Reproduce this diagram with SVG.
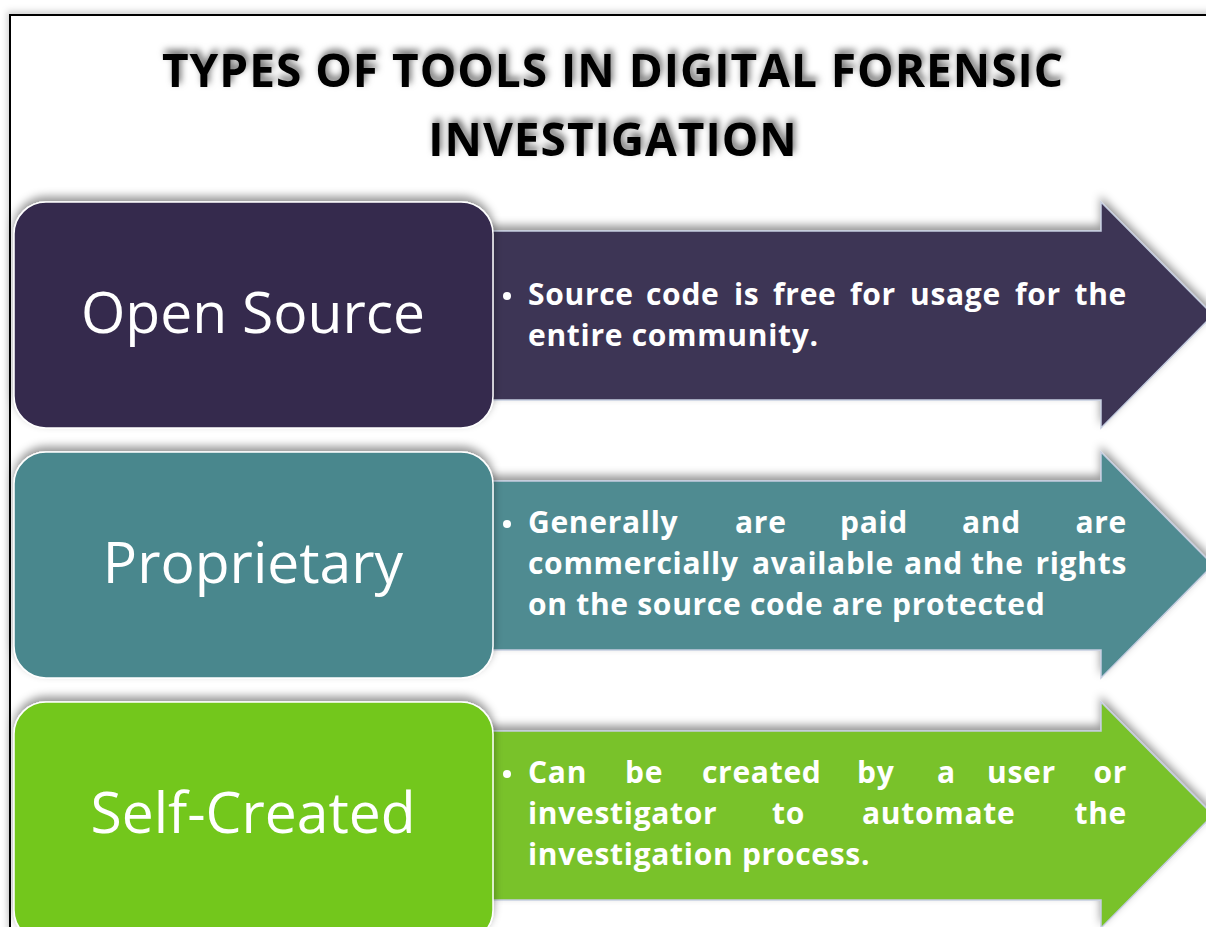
<svg xmlns="http://www.w3.org/2000/svg" width="1206" height="927" viewBox="0 0 1206 927">
  <defs>
    <filter id="frameShadow" x="-5%" y="-5%" width="110%" height="110%">
      <feDropShadow dx="-2" dy="-3" stdDeviation="3" flood-color="#000" flood-opacity="0.18"/>
    </filter>
    <filter id="shapeShadow" x="-5%" y="-15%" width="110%" height="130%">
      <feDropShadow dx="0" dy="-5" stdDeviation="4" flood-color="#000" flood-opacity="0.4"/>
    </filter>
    <filter id="titleShadow" x="-5%" y="-30%" width="110%" height="160%">
      <feGaussianBlur in="SourceAlpha" stdDeviation="3.5"/>
      <feOffset dx="2" dy="-4" result="b"/>
      <feFlood flood-color="#000" flood-opacity="0.6"/>
      <feComposite in2="b" operator="in" result="s"/>
      <feMerge><feMergeNode in="s"/><feMergeNode in="SourceGraphic"/></feMerge>
    </filter>
  </defs>
  <style>
    .title { font-family: "Open Sans", "Liberation Sans", sans-serif; font-weight: 700; font-size: 46px; letter-spacing: 1px; fill: #000; }
    .label { font-family: "Open Sans", "Liberation Sans", sans-serif; font-weight: 400; font-size: 57px; fill: #fff; }
    .desc { font-family: "Open Sans", "Liberation Sans", sans-serif; font-weight: 700; font-size: 30px; letter-spacing: 0.7px; fill: #fff; }
    .box { stroke: #ffffff; stroke-width: 1.5; }
    .arrow { stroke: #c5cde0; stroke-width: 1.5; }
  </style>
  <rect x="0" y="0" width="1206" height="927" fill="#ffffff"/>
  <rect x="10" y="15" width="1210" height="930" fill="#ffffff" stroke="#000" stroke-width="2" filter="url(#frameShadow)"/>

  <g id="title" filter="url(#titleShadow)">
    <text class="title" x="613" y="87" text-anchor="middle">TYPES OF TOOLS IN DIGITAL FORENSIC</text>
    <text class="title" x="613" y="156" text-anchor="middle">INVESTIGATION</text>
  </g>

  <g id="connectors"/>

  <g id="node-open-source">
    <polygon class="arrow" fill="#3d3655" filter="url(#shapeShadow)" points="480,231 1101,231 1101,202 1213,315 1101,428 1101,400 480,400"/>
    <rect class="box" x="14" y="202" width="479" height="226" rx="32" fill="#342a4e" filter="url(#shapeShadow)"/>
    <text class="label" x="253" y="333" text-anchor="middle">Open Source</text>
    <circle cx="507" cy="296" r="4" fill="#fff"/>
    <text class="desc" y="305"><tspan x="528">Source</tspan><tspan x="646">code</tspan><tspan x="734">is</tspan><tspan x="773">free</tspan><tspan x="850">for</tspan><tspan x="910">usage</tspan><tspan x="1015">for</tspan></text>
    <text class="desc" x="1127" y="305" text-anchor="end">the</text>
    <text class="desc" x="528" y="346">entire community.</text>
  </g>

  <g id="node-proprietary">
    <polygon class="arrow" fill="#4f8b91" filter="url(#shapeShadow)" points="480,481 1101,481 1101,452 1213,565 1101,678 1101,650 480,650"/>
    <rect class="box" x="14" y="452" width="479" height="226" rx="32" fill="#4a878d" filter="url(#shapeShadow)"/>
    <text class="label" x="253" y="583" text-anchor="middle">Proprietary</text>
    <circle cx="507" cy="524" r="4" fill="#fff"/>
    <text class="desc" y="533"><tspan x="528">Generally</tspan><tspan x="735">are</tspan><tspan x="840">paid</tspan><tspan x="962">and</tspan></text>
    <text class="desc" x="1127" y="533" text-anchor="end">are</text>
    <text class="desc" y="574"><tspan x="528">commercially</tspan><tspan x="752">available</tspan><tspan x="904">and</tspan><tspan x="971">the</tspan></text>
    <text class="desc" x="1127" y="574" text-anchor="end">rights</text>
    <text class="desc" x="528" y="615">on the source code are protected</text>
  </g>

  <g id="node-self-created">
    <polygon class="arrow" fill="#79c22b" filter="url(#shapeShadow)" points="480,731 1101,731 1101,702 1213,815 1101,928 1101,900 480,900"/>
    <rect class="box" x="14" y="702" width="479" height="240" rx="32" fill="#73c71f" filter="url(#shapeShadow)"/>
    <text class="label" x="253" y="833" text-anchor="middle">Self-Created</text>
    <circle cx="507" cy="774" r="4" fill="#fff"/>
    <text class="desc" y="783"><tspan x="528">Can</tspan><tspan x="625">be</tspan><tspan x="702">created</tspan><tspan x="857">by</tspan><tspan x="937">a</tspan><tspan x="987">user</tspan></text>
    <text class="desc" x="1127" y="783" text-anchor="end">or</text>
    <text class="desc" y="824"><tspan x="528">investigator</tspan><tspan x="772">to</tspan><tspan x="862">automate</tspan></text>
    <text class="desc" x="1127" y="824" text-anchor="end">the</text>
    <text class="desc" x="528" y="865">investigation process.</text>
  </g>
</svg>
